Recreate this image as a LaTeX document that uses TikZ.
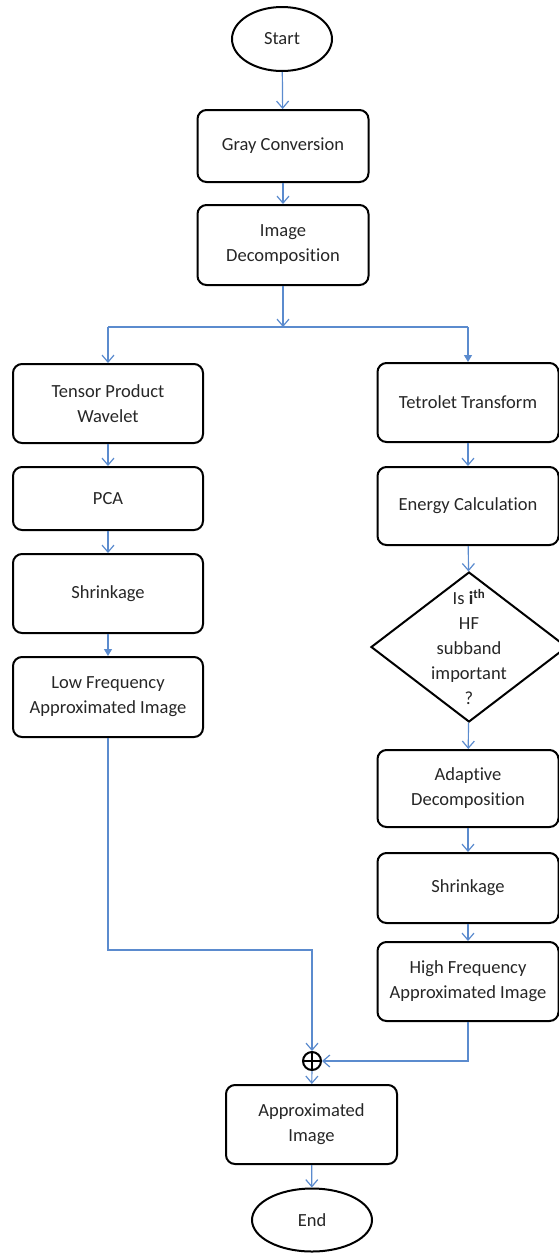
\documentclass[tikz,border=0pt]{standalone}
\usepackage{fontspec}
\setmainfont{Carlito}[Ligatures=NoCommon]
\usetikzlibrary{arrows.meta, positioning, shapes.geometric}
\definecolor{flow}{RGB}{91,139,206}

\begin{document}
\begin{tikzpicture}[x=1pt, y=-1pt, >={Straight Barb[length=7pt,width=12pt]},
  box/.style={draw, rounded corners=9pt, line width=2pt, align=center, inner sep=0pt,
    text=black!85, font=\fontsize{18.5}{25}\selectfont},
  lbox/.style={box, minimum width=190pt},
  rbox/.style={box, minimum width=181pt},
  term/.style={draw, ellipse, line width=2pt, inner sep=0pt, text=black!85,
    font=\fontsize{18.5}{25}\selectfont},
  ln/.style={draw=flow, line width=1.2pt},
  fl/.style={-{Triangle[length=7pt,width=8pt]}}]
\useasboundingbox (0,0) rectangle (559,1254);

% middle top
\node[term, minimum width=100pt, minimum height=64pt] (start) at (282,39) {Start};
\node[box, minimum width=171pt, minimum height=72pt] (gray) at (283,146) {Gray Conversion};
\node[box, minimum width=171pt, minimum height=80pt] (imgdec) at (283,245) {Image\\Decomposition};
\coordinate (split) at (283,327);
\coordinate (splitL) at (108,327);
\coordinate (splitR) at (468,327);

% left branch
\node[lbox, minimum height=79pt] (tpw) at (108,403.5) {Tensor Product\\Wavelet};
\node[lbox, minimum height=63pt] (pca) at (108,498.5) {PCA};
\node[lbox, minimum height=79pt] (shrinkL) at (108,593.5) {Shrinkage};
\node[lbox, minimum height=80pt] (lowf) at (108,697) {Low Frequency\\Approximated Image};

% right branch
\node[rbox, minimum height=79pt] (tet) at (468,402.5) {Tetrolet Transform};
\node[rbox, minimum height=78pt] (energy) at (468,506) {Energy Calculation};
\node[draw, diamond, line width=2pt, minimum width=196pt, minimum height=150pt,
  inner sep=0pt] (dec) at (469,647) {};
\node[align=center, text=black!85, font=\fontsize{18.5}{25}\selectfont] (dectext) at (dec)
  {Is \textbf{i}\textsuperscript{\textbf{th}}\\HF\\subband\\important\\?};
\node[rbox, minimum height=77pt] (adapt) at (468,788.5) {Adaptive\\Decomposition};
\node[rbox, minimum height=70pt] (shrinkR) at (468,888) {Shrinkage};
\node[rbox, minimum height=79pt] (highf) at (468,981.5) {High Frequency\\Approximated Image};

% merge and end
\node[circle, draw, line width=2pt, minimum size=18pt, inner sep=0pt] (plus) at (312,1061) {};
\draw[line width=2pt] (plus.north) -- (plus.south) (plus.west) -- (plus.east);
\coordinate (bendL) at (312,950);
\node[box, minimum width=171pt, minimum height=79pt] (approx) at (311.5,1124.5) {Approximated\\Image};
\node[term, minimum width=120pt, minimum height=63pt] (end) at (312,1220) {End};

\draw[ln, ->] (start) -- (gray);
\draw[ln, ->] (gray) -- (imgdec);
\draw[ln, ->] (imgdec) -- (split);
\draw[ln] (splitL) -- (splitR);
\draw[ln, ->] (splitL) -- (tpw);
\draw[ln, fl] (splitR) -- (tet);
\draw[ln, ->] (tpw) -- (pca);
\draw[ln, ->] (pca) -- (shrinkL);
\draw[ln, fl] (shrinkL) -- (lowf);
\draw[ln, ->] (tet) -- (energy);
\draw[ln, ->] (energy) -- (dec);
\draw[ln, ->] (dec) -- (adapt);
\draw[ln, ->] (adapt) -- (shrinkR);
\draw[ln, ->] (shrinkR) -- (highf);
\draw[ln, ->] (lowf) |- (bendL) -- (plus);
\draw[ln, ->] (highf) |- (plus);
\draw[ln, ->] (plus) -- (approx);
\draw[ln, ->] (approx) -- (end);
\end{tikzpicture}
\end{document}
